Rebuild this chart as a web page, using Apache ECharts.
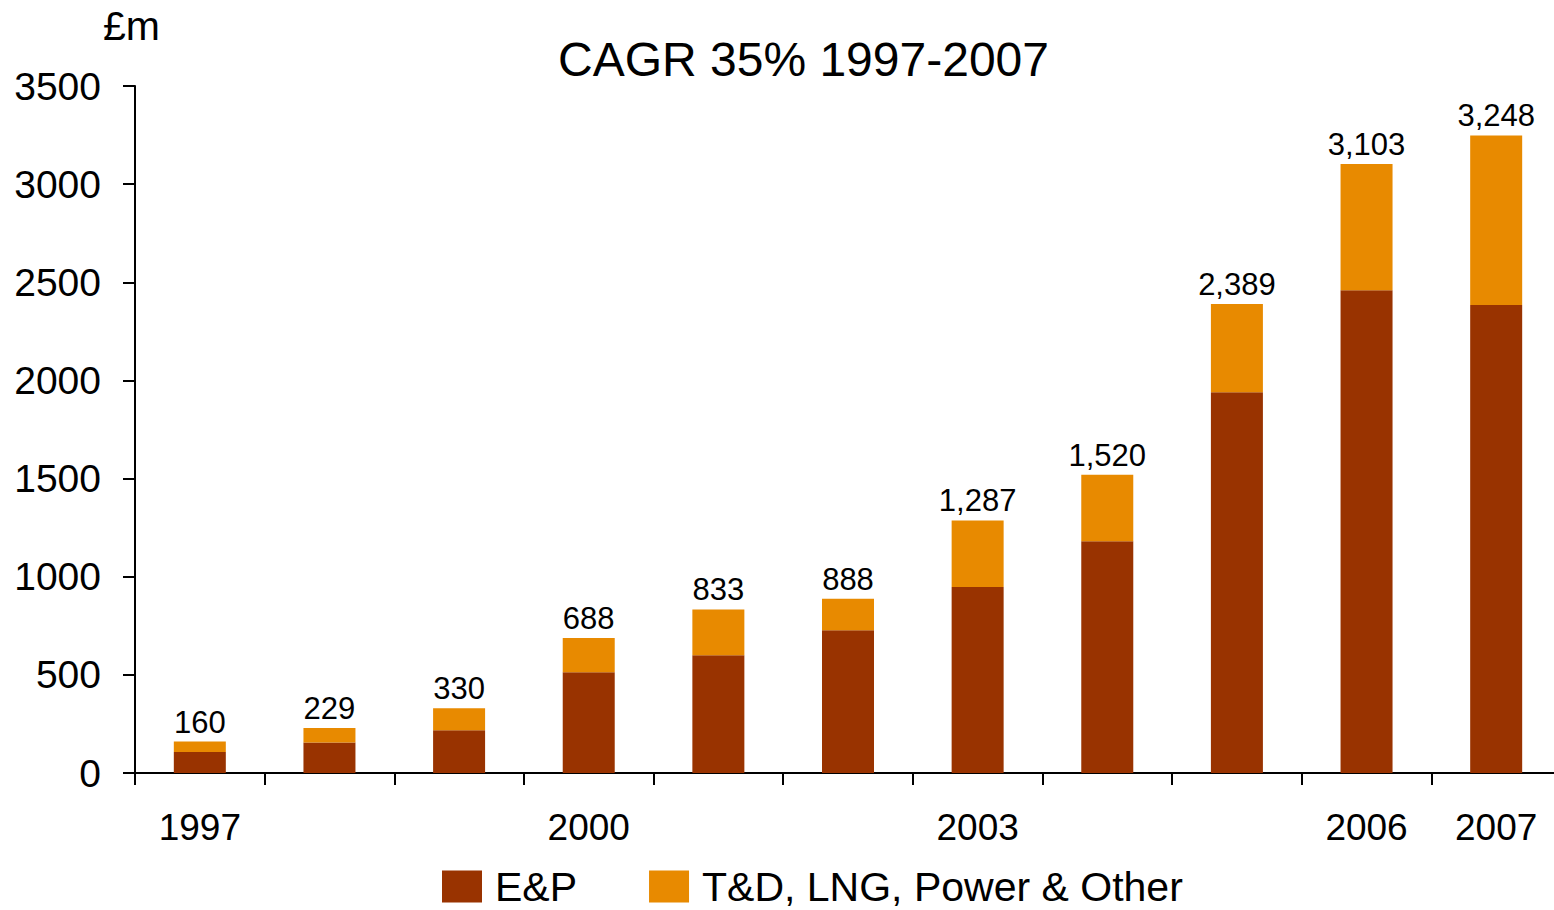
<!DOCTYPE html>
<html>
<head>
<meta charset="utf-8">
<title>CAGR 35% 1997-2007</title>
<script src="https://cdn.jsdelivr.net/npm/echarts@6/dist/echarts.min.js"></script>
<style>
  html, body { margin: 0; padding: 0; background: #fff; }
  #chart { width: 1554px; height: 910px; }
</style>
</head>
<body>
<div id="chart"></div>
<script>
// 数据
const years = ["1997", "1998", "1999", "2000", "2001", "2002", "2003", "2004", "2005", "2006", "2007"];
const epValues = [107, 156, 218, 513, 600, 727, 947, 1181, 1940, 2460, 2384];
const otherValues = [53, 73, 112, 175, 233, 161, 340, 339, 449, 643, 864];
const totals = [160, 229, 330, 688, 833, 888, 1287, 1520, 2389, 3103, 3248];
const shownYears = [0, 3, 6, 9, 10];

const font = "Liberation Sans, Arial, sans-serif";
const chart = echarts.init(document.getElementById("chart"), null, { renderer: "svg" });

chart.setOption({
  backgroundColor: "#fff",
  animation: false,
  textStyle: { fontFamily: font, color: "#000" },
  title: [
    {
      text: "CAGR 35% 1997-2007",
      left: 553,
      top: 30,
      textStyle: { fontFamily: font, fontSize: 48, fontWeight: "normal", color: "#000" }
    },
    {
      text: "£m",
      left: 98,
      top: 0,
      textStyle: { fontFamily: font, fontSize: 41, fontWeight: "normal", color: "#000" }
    }
  ],
  legend: {
    left: 442,
    top: 866,
    padding: 0,
    itemWidth: 40,
    itemHeight: 32,
    itemGap: 72,
    icon: "rect",
    textStyle: { fontFamily: font, fontSize: 41, lineHeight: 36, color: "#000", padding: [0, 0, 0, 8] },
    data: ["E&P", "T&D, LNG, Power & Other"]
  },
  // 最后一格伸出画布一点，所以关掉outerBounds的限制
  grid: { left: 135, width: 1426, top: 86, bottom: 137, outerBoundsMode: "none" },
  xAxis: {
    type: "category",
    data: years,
    axisLine: { lineStyle: { color: "#000", width: 2 } },
    axisTick: { show: true, interval: 0, length: 12, lineStyle: { color: "#000", width: 2 } },
    axisLabel: {
      interval: (i) => shownYears.includes(i),
      margin: 36,
      fontSize: 37,
      color: "#000",
      fontFamily: font
    }
  },
  yAxis: {
    type: "value",
    min: 0,
    max: 3500,
    interval: 500,
    splitLine: { show: false },
    axisLine: { show: true, lineStyle: { color: "#000", width: 2 } },
    axisTick: { show: true, length: 12, lineStyle: { color: "#000", width: 2 } },
    axisLabel: {
      margin: 34,
      fontSize: 39,
      color: "#000",
      fontFamily: font,
      formatter: (v) => String(v)
    }
  },
  series: [
    {
      name: "E&P",
      type: "bar",
      stack: "total",
      barWidth: 52,
      itemStyle: { color: "#993300" },
      data: epValues
    },
    {
      name: "T&D, LNG, Power & Other",
      type: "bar",
      stack: "total",
      barWidth: 52,
      itemStyle: { color: "#E88A00" },
      label: {
        show: true,
        position: "top",
        distance: 4,
        fontSize: 31,
        color: "#000",
        fontFamily: font,
        // 总数标在柱子顶上
        formatter: (p) => totals[p.dataIndex].toLocaleString("en-US")
      },
      data: otherValues
    }
  ]
});
</script>
</body>
</html>
